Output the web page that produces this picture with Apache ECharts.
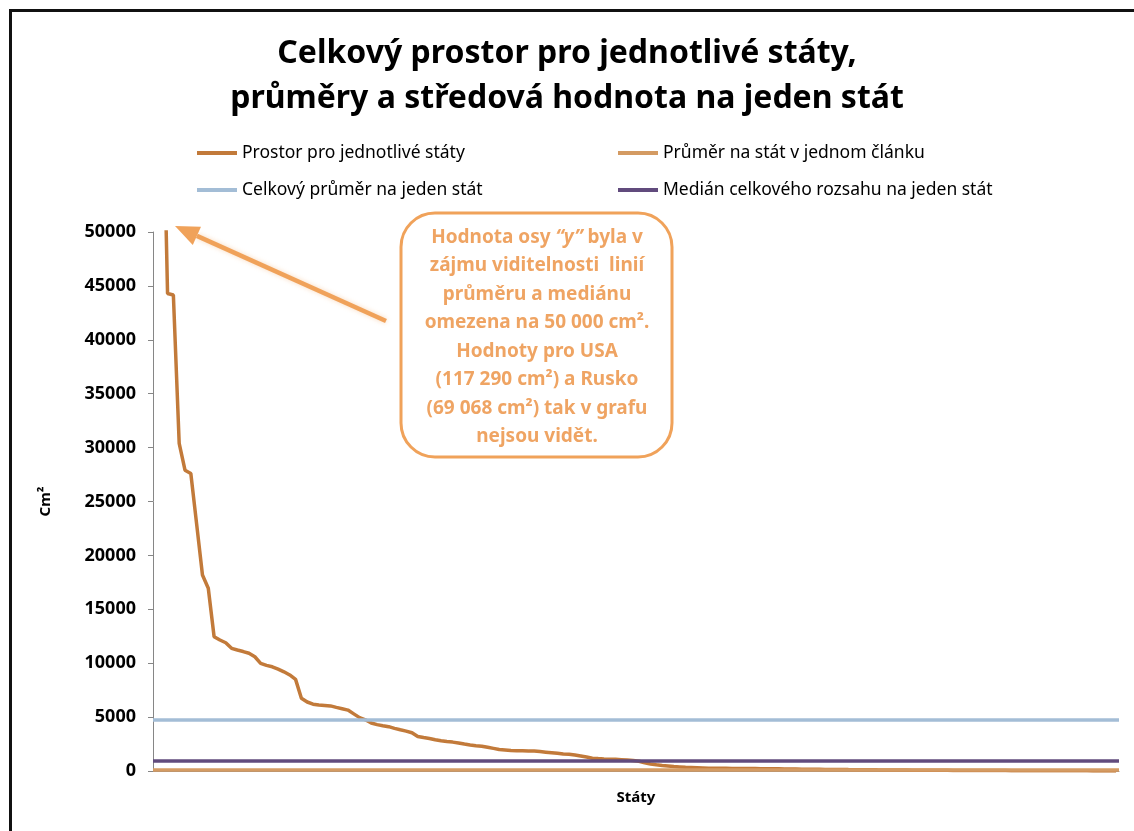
<!DOCTYPE html>
<html>
<head>
<meta charset="utf-8">
<title>Celkový prostor pro jednotlivé státy</title>
<script src="https://cdn.jsdelivr.net/npm/echarts@6/dist/echarts.min.js"></script>
<style>
  html, body { margin: 0; padding: 0; background: #fff; overflow: hidden; }
  #chart { position: absolute; left: 0; top: 0; width: 1134px; height: 831px; }
  #frame { position: absolute; left: 9px; top: 9px; width: 1200px; height: 900px;
           border: 3px solid #111; pointer-events: none; }
</style>
</head>
<body>
<div id="chart"></div>
<div id="frame"></div>
<script>
// prostor na stát (cm2), seřazeno sestupně - USA a Rusko jsou nad 50 000
var spaceByState = [
  117290, 69068, 44300, 44160, 30400, 27900, 27600, 22900, 18180, 16950,
  12460, 12150, 11900, 11380, 11220, 11080, 10920, 10600, 9990, 9800,
  9670, 9450, 9200, 8910, 8500, 6750, 6400, 6200, 6120, 6080,
  6040, 5900, 5780, 5650, 5300, 4950, 4750, 4450, 4300, 4200,
  4110, 3950, 3820, 3700, 3550, 3200, 3100, 3020, 2900, 2800,
  2730, 2680, 2600, 2500, 2410, 2350, 2300, 2200, 2100, 2000,
  1950, 1900, 1880, 1870, 1860, 1850, 1800, 1750, 1700, 1650,
  1580, 1550, 1480, 1390, 1300, 1190, 1150, 1120, 1100, 1080,
  1050, 1020, 980, 900, 760, 650, 580, 520, 470, 420,
  380, 340, 320, 300, 280, 260, 250, 250, 245, 240,
  238, 235, 232, 228, 220, 212, 205, 198, 190, 182,
  175, 168, 162, 160, 155, 150, 145, 140, 135, 130,
  126, 122, 118, 115, 105, 100, 95, 90, 86, 82,
  78, 75, 72, 68, 65, 62, 60, 57, 54, 52,
  50, 47, 45, 42, 40, 38, 36, 34, 32, 30,
  28, 26, 24, 22, 20, 18, 17, 16, 15, 13,
  12, 11, 10, 8, 6, 5
];
var states = spaceByState.map(function (v, i) { return 'Stát ' + (i + 1); });

var avgPerArticle = 100;   // Průměr na stát v jednom článku
var avgTotal = 4730;       // Celkový průměr na jeden stát
var medianTotal = 990;     // Medián celkového rozsahu na jeden stát

var yTicks = [0, 5000, 10000, 15000, 20000, 25000, 30000, 35000, 40000, 45000, 50000];

var seriesNames = [
  'Prostor pro jednotlivé státy',
  'Průměr na stát v jednom článku',
  'Celkový průměr na jeden stát',
  'Medián celkového rozsahu na jeden stát'
];

var cBrown = '#C27A3A';
var cTan = '#D49B63';
var cBlue = '#A3BDD6';
var cPurple = '#614B7D';
var cNote = '#F0A25A';

var chart = echarts.init(document.getElementById('chart'), null, { renderer: 'canvas' });

function legendItem(name, left, top) {
  return {
    data: [name],
    left: left,
    top: top,
    icon: 'rect',
    itemWidth: 40,
    itemHeight: 4,
    selectedMode: false,
    textStyle: { fontFamily: 'Noto Sans', fontSize: 17.5, color: '#000' }
  };
}

function refLine(name, value, color) {
  return {
    name: name,
    type: 'line',
    data: [],
    itemStyle: { color: color },
    lineStyle: { color: color, width: 3.5 },
    markLine: {
      silent: true,
      symbol: 'none',
      label: { show: false },
      lineStyle: { color: color, width: 3.5, type: 'solid' },
      data: [{ yAxis: value }]
    }
  };
}

// šipka a rámeček s poznámkou
var tip = [175, 226], tail = [386, 321];
var dx = tip[0] - tail[0], dy = tip[1] - tail[1];
var len = Math.sqrt(dx * dx + dy * dy);
var ux = dx / len, uy = dy / len;
var base = [tip[0] - 24 * ux, tip[1] - 24 * uy];
var nx = -uy, ny = ux;

var option = {
  backgroundColor: '#fff',
  animation: false,
  title: {
    text: 'Celkový prostor pro jednotlivé státy,\nprůměry a středová hodnota na jeden stát',
    left: 'center',
    top: 26,
    textStyle: {
      fontFamily: 'Noto Sans',
      fontSize: 32,
      fontWeight: 'bold',
      color: '#000',
      lineHeight: 45
    }
  },
  legend: [
    legendItem(seriesNames[0], 192, 139),
    legendItem(seriesNames[1], 613, 139),
    legendItem(seriesNames[2], 192, 176),
    legendItem(seriesNames[3], 613, 176)
  ],
  grid: { left: 153, right: 15, top: 232, bottom: 60, containLabel: false },
  xAxis: {
    type: 'category',
    data: states,
    boundaryGap: true,
    name: 'Státy',
    nameLocation: 'middle',
    nameGap: 19,
    nameTextStyle: { fontFamily: 'Noto Sans', fontSize: 15, fontWeight: 'bold', color: '#000' },
    axisLine: { lineStyle: { color: '#868686', width: 1 } },
    axisTick: { show: false },
    axisLabel: { show: false }
  },
  yAxis: {
    type: 'value',
    min: yTicks[0],
    max: yTicks[yTicks.length - 1],
    interval: yTicks[1] - yTicks[0],
    name: 'Cm²',
    nameLocation: 'middle',
    nameGap: 100,
    nameRotate: 90,
    nameTextStyle: { fontFamily: 'Noto Sans', fontSize: 15, fontWeight: 'bold', color: '#000' },
    axisLine: { show: true, lineStyle: { color: '#868686', width: 1 } },
    axisTick: { show: true, inside: false, length: 5, lineStyle: { color: '#868686' } },
    axisLabel: {
      fontFamily: 'Noto Sans', fontSize: 18, fontWeight: 'bold', color: '#000', margin: 17,
      formatter: function (v) { return String(v); }
    },
    splitLine: { show: false }
  },
  series: [
    {
      name: seriesNames[0],
      type: 'line',
      data: spaceByState,
      symbol: 'none',
      clip: true,
      itemStyle: { color: cBrown },
      lineStyle: { color: cBrown, width: 3.5 }
    },
    refLine(seriesNames[2], avgTotal, cBlue),
    refLine(seriesNames[3], medianTotal, cPurple),
    refLine(seriesNames[1], avgPerArticle, cTan)
  ],
  graphic: [
    {
      type: 'line',
      shape: { x1: tail[0], y1: tail[1], x2: base[0], y2: base[1] },
      style: { stroke: cNote, lineWidth: 4.5, shadowColor: 'rgba(240,162,90,0.4)', shadowBlur: 5 }
    },
    {
      type: 'polygon',
      shape: {
        points: [
          tip,
          [base[0] + 10 * nx, base[1] + 10 * ny],
          [base[0] - 10 * nx, base[1] - 10 * ny]
        ]
      },
      style: { fill: cNote }
    },
    {
      type: 'rect',
      shape: { x: 401, y: 213, width: 271, height: 244, r: 34 },
      style: { fill: '#fff', stroke: cNote, lineWidth: 3 }
    },
    {
      type: 'text',
      x: 537,
      y: 337,
      style: {
        text: 'Hodnota osy {i|“y”} byla v\nzájmu viditelnosti  linií\nprůměru a mediánu\nomezena na 50 000 cm².\nHodnoty pro USA\n(117 290 cm²) a Rusko\n(69 068 cm²) tak v grafu\nnejsou vidět.',
        align: 'center',
        verticalAlign: 'middle',
        fontFamily: 'Noto Sans',
        fontSize: 19,
        fontWeight: 'bold',
        lineHeight: 28.5,
        fill: '#EFA463',
        rich: {
          i: { fontFamily: 'Noto Sans', fontSize: 19, fontWeight: 'bold', fontStyle: 'italic', fill: '#EFA463', lineHeight: 28.5 }
        }
      }
    }
  ]
};

chart.setOption(option);
</script>
</body>
</html>
